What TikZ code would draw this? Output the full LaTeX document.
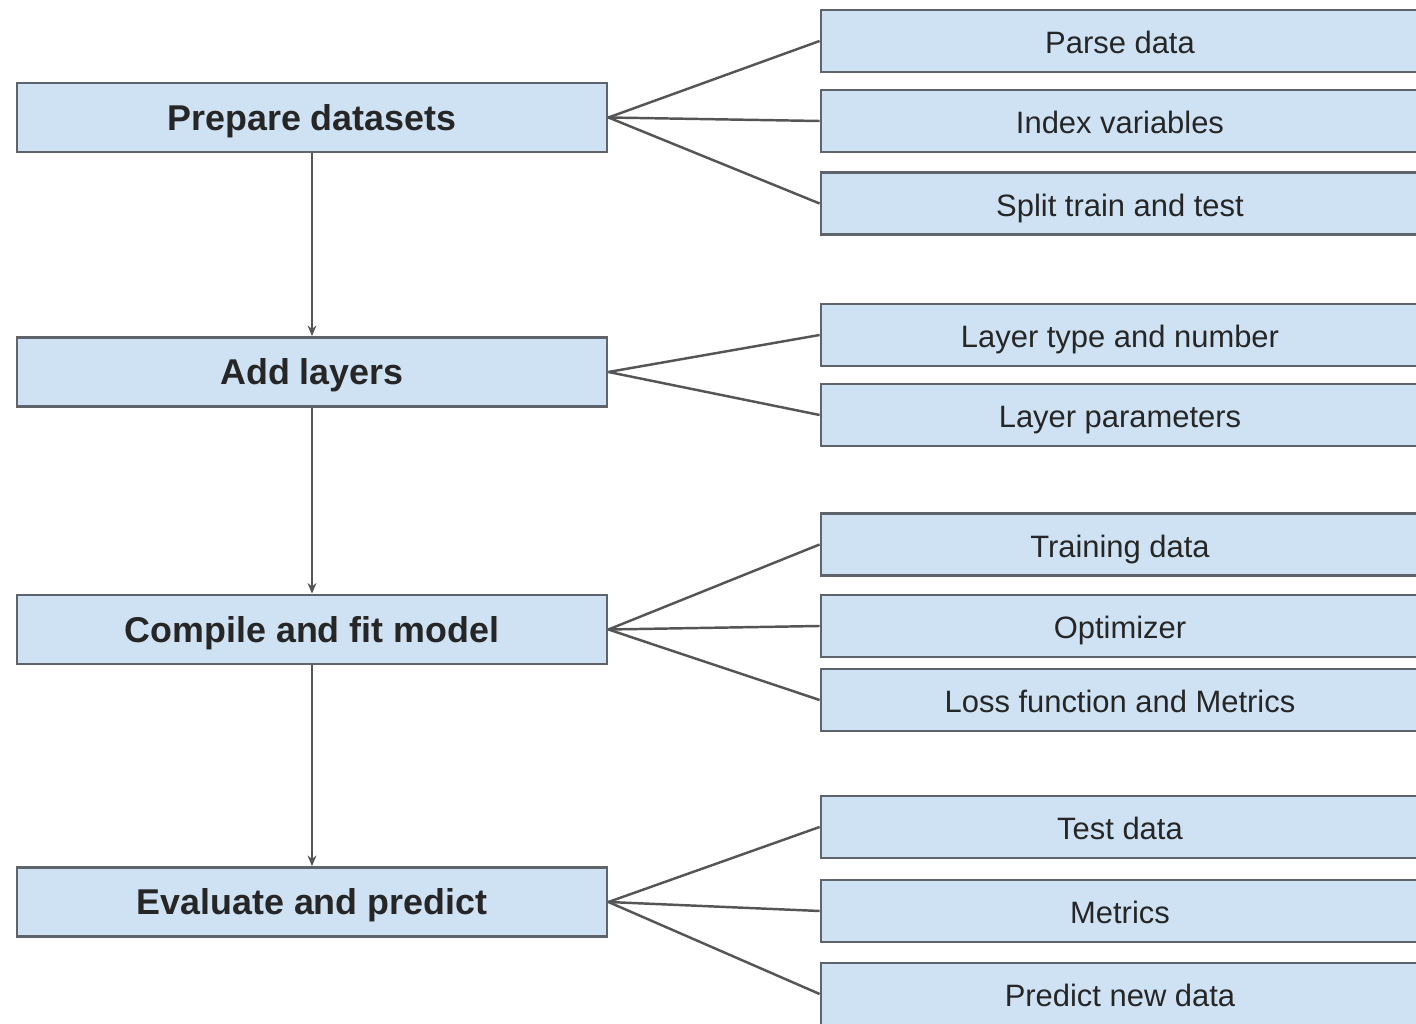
\documentclass[tikz,border=0pt]{standalone}
\usepackage{fontspec}
\setmainfont{Liberation Sans}
\usetikzlibrary{arrows.meta, positioning}
\definecolor{boxfill}{RGB}{207,226,243}
\definecolor{boxline}{RGB}{95,100,108}
\definecolor{linkgray}{RGB}{85,85,85}
\tikzset{
  stepblock/.style={rectangle, draw=boxline, fill=boxfill, line width=0.8pt,
    minimum width=5.9cm, minimum height=0.69cm, inner sep=0pt,
    text height=0.72em, text depth=0pt,
    font=\fontsize{10.2}{12}\selectfont\bfseries, text=black!85},
  subblock/.style={rectangle, draw=boxline, fill=boxfill, line width=0.8pt,
    minimum width=5.98cm, minimum height=0.62cm, inner sep=0pt,
    text height=0.72em, text depth=0pt,
    font=\fontsize{8.8}{10}\selectfont, text=black!85},
  arrow/.style={-{Stealth[length=3pt, width=2.5pt]}, line width=0.7pt, color=linkgray},
  link/.style={line width=0.7pt, color=linkgray},
}
\begin{document}
\begin{tikzpicture}
  \useasboundingbox (0,0) rectangle (14.16,10.24);
  % main steps
  \node[stepblock] (prep) at (3.12,9.065) {Prepare datasets};
  \node[stepblock] (layers) at (3.12,6.52) {Add layers};
  \node[stepblock] (fit) at (3.12,3.945) {Compile and fit model};
  \node[stepblock] (eval) at (3.12,1.22) {Evaluate and predict};
  % details
  \node[subblock] (parse) at (11.20,9.83) {Parse data};
  \node[subblock] (index) at (11.20,9.03) {Index variables};
  \node[subblock] (split) at (11.20,8.205) {Split train and test};
  \node[subblock] (ltype) at (11.20,6.89) {Layer type and number};
  \node[subblock] (lparam) at (11.20,6.09) {Layer parameters};
  \node[subblock] (train) at (11.20,4.795) {Training data};
  \node[subblock] (optim) at (11.20,3.98) {Optimizer};
  \node[subblock] (loss) at (11.20,3.24) {Loss function and Metrics};
  \node[subblock] (test) at (11.20,1.97) {Test data};
  \node[subblock] (metric) at (11.20,1.13) {Metrics};
  \node[subblock] (predict) at (11.20,0.30) {Predict new data};
  % flow
  \draw[arrow] (prep) -- (layers);
  \draw[arrow] (layers) -- (fit);
  \draw[arrow] (fit) -- (eval);
  % fan out
  \draw[link] (prep.east) -- (parse.west);
  \draw[link] (prep.east) -- (index.west);
  \draw[link] (prep.east) -- (split.west);
  \draw[link] (layers.east) -- (ltype.west);
  \draw[link] (layers.east) -- (lparam.west);
  \draw[link] (fit.east) -- (train.west);
  \draw[link] (fit.east) -- (optim.west);
  \draw[link] (fit.east) -- (loss.west);
  \draw[link] (eval.east) -- (test.west);
  \draw[link] (eval.east) -- (metric.west);
  \draw[link] (eval.east) -- (predict.west);
\end{tikzpicture}
\end{document}
